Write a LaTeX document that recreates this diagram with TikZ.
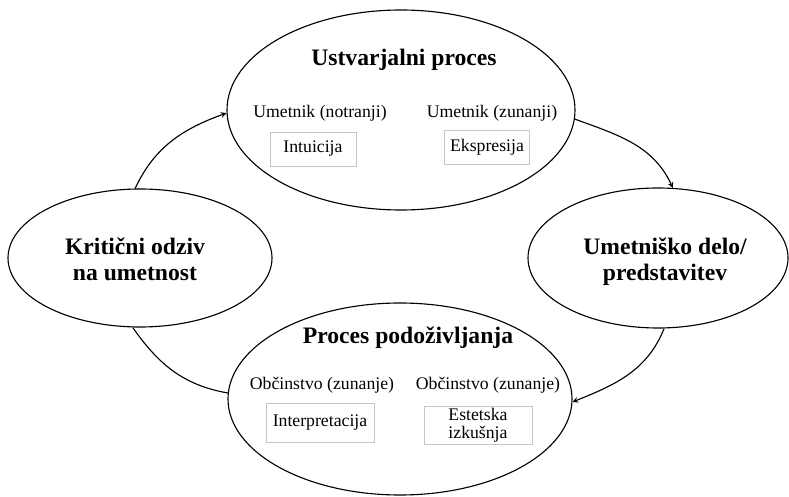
\documentclass[tikz,border=0pt]{standalone}
\usepackage{fontspec}
\setmainfont{Liberation Serif}
\usetikzlibrary{shapes.geometric}
\tikzset{
  bubble/.style={draw, ellipse, line width=0.8pt, inner sep=0pt, align=center},
  headline/.style={font=\fontsize{16.8}{18.5}\selectfont\bfseries},
  roletext/.style={font=\fontsize{12.6}{14}\selectfont},
  stagebox/.style={draw=gray!45, line width=0.6pt, font=\fontsize{12.6}{14}\selectfont, align=center, inner sep=0pt},
  flow/.style={line width=0.8pt}
}
\begin{document}
\begin{tikzpicture}[x=0.025cm,y=-0.025cm]
	\def\px{0.025cm}
	\useasboundingbox (0,0) rectangle (789,497);

	% the four stages
	\node[bubble, minimum width=348*\px, minimum height=200*\px] (create) at (401,110) {};
	\node[bubble, minimum width=344*\px, minimum height=192*\px] (relive) at (400,399) {};
	\node[bubble, minimum width=264*\px, minimum height=138*\px] (critic) at (140,258) {};
	\node[bubble, minimum width=260*\px, minimum height=140*\px] (work) at (658,258) {};

	\node[headline, align=center] (critictext) at (135,259) {Kritični odziv\\na umetnost};
	\node[headline, align=center] (worktext) at (665,262) {Umetniško delo/\\predstavitev};

	% inside the creative process
	\node[headline] (createtitle) at (404,60) {Ustvarjalni proces};
	\node[roletext] (inner) at (320,113) {Umetnik (notranji)};
	\node[roletext] (outer) at (492,113) {Umetnik (zunanji)};
	\node[stagebox, minimum width=86*\px, minimum height=34*\px] (intuition) at (313,149) {Intuicija};
	\node[stagebox, minimum width=85*\px, minimum height=34*\px] (expression) at (487,147) {Ekspresija};

	% inside the reliving process
	\node[headline] (relivetitle) at (408,338) {Proces podoživljanja};
	\node[roletext] (audiencea) at (322,385) {Občinstvo (zunanje)};
	\node[roletext] (audienceb) at (488,385) {Občinstvo (zunanje)};
	\node[stagebox, minimum width=108*\px, minimum height=39*\px] (interpret) at (320,423) {Interpretacija};
	\node[stagebox, minimum width=108*\px, minimum height=38*\px] (aesthetic) at (478,425) {Estetska\\[-1pt]izkušnja};

	% cycle
	\draw[flow,-stealth] (create.-3) to[out=-20,in=115] (work.78);
	\draw[flow,-stealth] (work.-85) to[out=-112,in=22] (relive.-1);
	\draw[flow] (critic.-96) to[out=-55,in=170] (relive.178);
	\draw[flow,-stealth] (critic.94) to[out=65,in=200] (create.181);

\end{tikzpicture}
\end{document}
